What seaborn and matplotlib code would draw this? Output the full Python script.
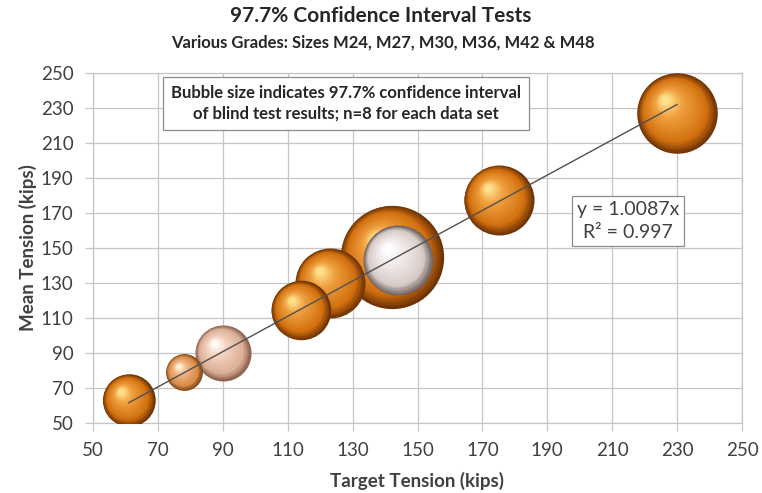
import numpy as np
import pandas as pd
import matplotlib
matplotlib.use("Agg")
import matplotlib.pyplot as plt
from matplotlib.colors import to_rgb
import seaborn as sns

# Blind-test results: target vs. mean tension (kips) and 97.7% CI width (kips)
target_kips = [61, 78, 90, 114, 123, 142, 144, 175, 230]
mean_kips = [63, 79, 90, 114.5, 130, 145, 143, 177.5, 227]
ci_kips = [30, 21, 32, 34, 40, 59, 40, 40, 46]
bubble_tone = ["orange", "tan", "pink", "orange", "orange", "orange", "white", "orange", "orange"]

slope = 1.0087
r_squared = 0.997

x_ticks = list(range(50, 251, 20))
y_ticks = list(range(50, 251, 20))

# sphere shading stops: rim, body, light, highlight
tones = {
    "orange": ["#6e3204", "#d2700f", "#f0a040", "#ffe08a"],
    "tan": ["#7a4418", "#d98a48", "#f2b88a", "#fff0d8"],
    "pink": ["#8a5e4e", "#dcae96", "#f3d4c2", "#fffaf4"],
    "white": ["#6e605c", "#d8ccc8", "#f2eceb", "#ffffff"],
}

sns.set_theme(style="whitegrid")
plt.rcParams["font.family"] = ["Lato", "DejaVu Sans"]

fig = plt.figure(figsize=(7.62, 4.93), dpi=100)
ax = fig.add_axes([93 / 762, 1 - 423 / 493, (742 - 93) / 762, (423 - 73) / 493])
ax.set_facecolor("white")
ax.set_xlim(50, 250)
ax.set_ylim(50, 250)
ax.set_xticks(x_ticks)
ax.set_yticks(y_ticks)
ax.grid(True, color="#c6c6c6", linewidth=0.9)
for sp in ax.spines.values():
    sp.set_color("#c6c6c6")
    sp.set_linewidth(0.9)
ax.tick_params(axis="both", which="major", length=6, width=0.9, color="#c6c6c6",
               labelsize=13.5, labelcolor="#404040", pad=8)
ax.tick_params(axis="x", bottom=True)
ax.tick_params(axis="y", left=True)

# pixels per kip along each axis
fig.canvas.draw()
p0 = ax.transData.transform((50, 50))
p1 = ax.transData.transform((250, 250))
xpp = (p1[0] - p0[0]) / 200.0
ypp = (p1[1] - p0[1]) / 200.0
pt_per_px = 72.0 / fig.dpi


def blend(stops, t):
    pos = [0.0, 0.22, 0.72, 1.0]
    cols = [np.array(to_rgb(c)) for c in stops]
    for i in range(3):
        if t <= pos[i + 1]:
            u = (t - pos[i]) / (pos[i + 1] - pos[i])
            return tuple(cols[i] * (1 - u) + cols[i + 1] * u)
    return tuple(cols[-1])


df = pd.DataFrame({"target": target_kips, "mean": mean_kips, "ci": ci_kips, "tone": bubble_tone})
order = df.sort_values("ci", ascending=False, kind="stable")

n_layers = 34
for z, (_, row) in enumerate(order.iterrows()):
    r_px = row["ci"] / 2.0 * ypp
    for k, t in enumerate(np.linspace(0, 1, n_layers)):
        rad = r_px * (1 - 0.9 * t)
        dx = -0.30 * r_px * t / xpp
        dy = 0.34 * r_px * t / ypp
        s = (2 * rad * pt_per_px) ** 2
        sns.scatterplot(x=[row["target"] + dx], y=[row["mean"] + dy], s=s,
                        color=blend(tones[row["tone"]], t), linewidth=0,
                        ax=ax, zorder=3 + z * 0.01, legend=False)

# linear trendline through the origin
xs = np.array([min(target_kips), max(target_kips)])
sns.lineplot(x=xs, y=slope * xs, color="#505050", linewidth=1.0, ax=ax, zorder=10)

ax.set_xlabel("Target Tension (kips)", fontsize=13.5, fontweight="bold", color="#404040", labelpad=9)
ax.set_ylabel("Mean Tension (kips)", fontsize=13.5, fontweight="bold", color="#404040", labelpad=3)

fig.text(381 / 762, 1 - 16 / 493, "97.7% Confidence Interval Tests", ha="center", va="center",
         fontsize=15, fontweight="bold", color="#262626")
fig.text(383 / 762, 1 - 43 / 493, "Various Grades: Sizes M24, M27, M30, M36, M42 & M48",
         ha="center", va="center", fontsize=12, fontweight="bold", color="#262626")

ax.text(0.39, 0.965, "Bubble size indicates 97.7% confidence interval\nof blind test results; n=8 for each data set",
        transform=ax.transAxes, ha="center", va="top", fontsize=12, fontweight="bold",
        color="#262626", linespacing=1.35, zorder=12,
        bbox=dict(boxstyle="square,pad=0.5", facecolor="white", edgecolor="#8c8c8c", linewidth=0.9))

ax.text(0.824, 0.635, f"y = {slope:.4f}x\nR\u00b2 = {r_squared:.3f}",
        transform=ax.transAxes, ha="center", va="top", fontsize=14,
        color="#404040", linespacing=1.45, zorder=12,
        bbox=dict(boxstyle="square,pad=0.25", facecolor="white", edgecolor="#8c8c8c", linewidth=0.9))

fig.savefig("out.png", dpi=100)
